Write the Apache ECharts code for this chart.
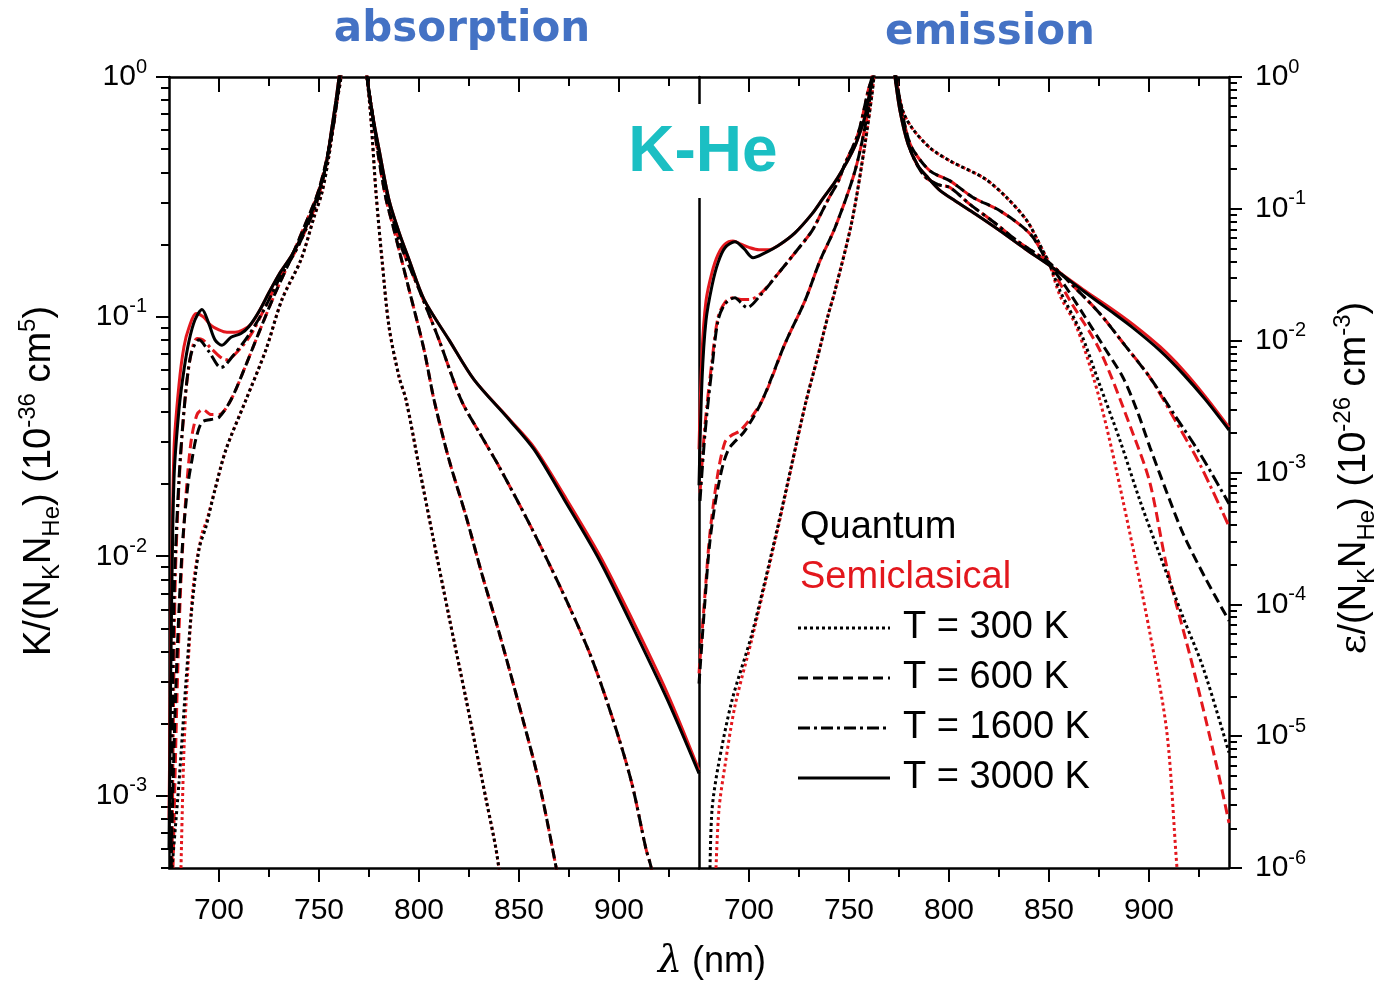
<!DOCTYPE html>
<html>
<head>
<meta charset="utf-8">
<title>K-He absorption / emission</title>
<script src="https://cdn.jsdelivr.net/npm/echarts@6/dist/echarts.min.js"></script>
<style>
  html, body { margin: 0; padding: 0; background: #fff; }
  #chart { width: 1379px; height: 983px; }
</style>
</head>
<body>
<div id="chart"></div>
<script>
// axis ticks
var lambdaMajor = [700, 750, 800, 850, 900];
var lambdaMinor = [725, 775, 825, 875, 925];
var absDecades = [1e-3, 1e-2, 1e-1, 1];
var emDecades = [1e-6, 1e-5, 1e-4, 1e-3, 1e-2, 1e-1, 1];
var temps = ['T = 300 K', 'T = 600 K', 'T = 1600 K', 'T = 3000 K'];

// absorption K/(N_K N_He), points are [lambda (nm), value]
// Q = quantum (black), S = semiclassical (red)
var absQ300 = [[676.5, 5e-4], [680, 1.14e-3], [683.5, 3.0e-3], [686, 5.6e-3], [690, 0.0107], [693.5, 0.0133], [698, 0.019], [703.5, 0.0279], [713.5, 0.045], [723.5, 0.0729], [731.5, 0.118], [741, 0.173], [747.5, 0.26], [751.5, 0.33], [755, 0.47], [758.5, 0.75], [761, 1.0], [763, 1.6], [771, 1.6], [774, 1.0], [776, 0.662], [778.5, 0.329], [781.5, 0.173], [785, 0.0908], [790, 0.0562], [793.5, 0.045], [800, 0.0237], [806.5, 0.0126], [815, 5.6e-3], [823.5, 2.54e-3], [828.5, 1.57e-3], [833.5, 9.7e-4], [838.5, 6.0e-4], [841, 4.3e-4]];
var absS300 = [[681, 5e-4], [682.5, 1.57e-3], [685, 4.1e-3], [687.5, 8.0e-3], [691.5, 0.0124], [694, 0.0142], [698, 0.019], [703.5, 0.0279], [713.5, 0.045], [723.5, 0.0729], [731.5, 0.118], [741, 0.173], [747.5, 0.26], [751.5, 0.33], [755, 0.47], [758.5, 0.75], [761, 1.0], [763, 1.6], [771, 1.6], [774, 1.0], [776, 0.662], [778.5, 0.329], [781.5, 0.173], [785, 0.0908], [790, 0.0562], [793.5, 0.045], [800, 0.0237], [806.5, 0.0126], [815, 5.6e-3], [823.5, 2.54e-3], [828.5, 1.57e-3], [833.5, 9.7e-4], [838.5, 6.0e-4], [841, 4.3e-4]];
var absQ600 = [[676, 5e-4], [678, 2.2e-3], [680, 6e-3], [682, 0.012], [684.5, 0.02], [686.5, 0.0253], [688.5, 0.031], [691.5, 0.0363], [696, 0.0372], [700, 0.038], [706, 0.045], [712.5, 0.06], [720, 0.086], [727.5, 0.122], [735, 0.168], [742.5, 0.236], [750, 0.34], [756.5, 0.58], [760.5, 1.0], [763, 1.6], [771, 1.6], [774, 1.0], [780, 0.451], [783.5, 0.31], [787.5, 0.23], [795, 0.13], [802.5, 0.0729], [807.5, 0.045], [815, 0.0253], [823.5, 0.0147], [831.5, 0.0084], [840, 0.00482], [851.5, 0.00215], [860, 0.00114], [868.5, 5.06e-4], [871, 3.8e-4]];
var absS600 = [[677, 5e-4], [679, 2.6e-3], [681, 8e-3], [683.5, 0.018], [686, 0.03], [689, 0.039], [692, 0.041], [696, 0.039], [700, 0.039], [706, 0.045], [712.5, 0.06], [720, 0.086], [727.5, 0.122], [735, 0.168], [742.5, 0.236], [750, 0.34], [756.5, 0.58], [760.5, 1.0], [763, 1.6], [771, 1.6], [774, 1.0], [780, 0.451], [783.5, 0.31], [787.5, 0.23], [795, 0.13], [802.5, 0.0729], [807.5, 0.045], [815, 0.0253], [823.5, 0.0147], [831.5, 0.0084], [840, 0.00482], [851.5, 0.00215], [860, 0.00114], [868.5, 5.06e-4], [871, 3.8e-4]];
var absQ1600 = [[676, 5e-4], [677.5, 6.6e-3], [680, 0.021], [683, 0.045], [686, 0.0695], [690, 0.08], [695, 0.0714], [701, 0.0613], [707.5, 0.0695], [715, 0.084], [722.5, 0.107], [730, 0.143], [740, 0.2], [750, 0.322], [756.5, 0.6], [760.5, 1.0], [763, 1.6], [771, 1.6], [774, 1.0], [778, 0.6], [782.5, 0.372], [790, 0.209], [800, 0.13], [810, 0.08], [821, 0.045], [830, 0.033], [840, 0.0237], [856.5, 0.013], [873.5, 6.6e-3], [886.5, 3.72e-3], [898.5, 1.9e-3], [906.5, 1.12e-3], [913.5, 6.0e-4], [916, 5.06e-4], [918, 4e-4]];
var absS1600 = [[676.5, 5e-4], [678, 7e-3], [680, 0.02], [683, 0.045], [686, 0.07], [689, 0.081], [692, 0.08], [696.5, 0.073], [703.5, 0.066], [711.5, 0.075], [717, 0.087], [722.5, 0.107], [730, 0.143], [740, 0.2], [750, 0.322], [756.5, 0.6], [760.5, 1.0], [763, 1.6], [771, 1.6], [774, 1.0], [778, 0.6], [782.5, 0.372], [790, 0.209], [800, 0.13], [810, 0.08], [821, 0.045], [830, 0.033], [840, 0.0237], [856.5, 0.013], [873.5, 6.6e-3], [886.5, 3.72e-3], [898.5, 1.9e-3], [906.5, 1.12e-3], [913.5, 6.0e-4], [916, 5.06e-4], [918, 4e-4]];
var absQ3000 = [[675, 6e-4], [676, 4.1e-3], [677.5, 0.021], [680, 0.041], [682.5, 0.06], [685, 0.079], [688, 0.097], [691.5, 0.107], [695, 0.093], [698, 0.08], [701.5, 0.076], [706, 0.082], [711, 0.085], [715, 0.091], [720, 0.105], [725, 0.126], [730, 0.15], [736, 0.178], [740, 0.205], [745, 0.254], [749, 0.316], [752, 0.38], [754, 0.45], [756.5, 0.62], [758.5, 0.8], [760, 1.0], [762, 1.5], [772, 1.5], [774, 1.0], [777, 0.68], [780, 0.5], [785, 0.307], [790, 0.225], [795, 0.173], [802.5, 0.118], [815, 0.08], [827.5, 0.0546], [845, 0.0372], [857.5, 0.0279], [872.5, 0.0173], [890, 0.00972], [905, 0.00546], [924, 0.00254], [940, 0.00124]];
var absS3000 = [[675, 8e-4], [676, 5e-3], [677.5, 0.028], [680, 0.052], [682.5, 0.075], [685, 0.09], [688.5, 0.103], [692, 0.1], [696, 0.092], [700, 0.088], [704, 0.086], [708, 0.086], [712, 0.088], [716, 0.093], [720, 0.105], [725, 0.126], [730, 0.15], [736, 0.178], [740, 0.205], [745, 0.254], [749, 0.316], [752, 0.38], [754, 0.45], [756.5, 0.62], [758.5, 0.8], [760, 1.0], [762, 1.5], [772, 1.5], [774, 1.0], [777, 0.68], [780, 0.5], [785, 0.307], [790, 0.225], [795, 0.173], [802.5, 0.118], [815, 0.08], [827.5, 0.0546], [845, 0.0375], [857.5, 0.0285], [872.5, 0.018], [890, 0.0102], [905, 0.0058], [924, 0.0027], [940, 0.00128]];

// emission eps/(N_K N_He)
var emQ300 = [[680.5, 1e-6], [681.5, 2.75e-6], [684.5, 5.8e-6], [691.5, 1.87e-5], [701.5, 6.0e-5], [714.5, 3.96e-4], [728, 3.22e-3], [734.5, 7.7e-3], [739.5, 0.0155], [743, 0.0239], [751.5, 0.081], [758, 0.31], [761.5, 0.74], [762.5, 1.0], [765, 1.8], [771, 1.8], [773, 1.0], [777, 0.55], [781.5, 0.411], [790.5, 0.29], [800.5, 0.231], [818, 0.169], [829, 0.121], [839, 0.081], [847, 0.048], [850, 0.039], [855.5, 0.0239], [865.5, 0.0119], [875.5, 4.56e-3], [885.5, 1.75e-3], [895.5, 6.1e-4], [905.5, 2.35e-4], [917, 8.0e-5], [927, 3.33e-5], [940, 7.5e-6]];
var emS300 = [[683.5, 1e-6], [685, 2.8e-6], [688, 6e-6], [693, 1.7e-5], [701.5, 5.5e-5], [714.5, 3.8e-4], [728, 3.2e-3], [734.5, 7.7e-3], [739.5, 0.0155], [743, 0.0239], [751.5, 0.081], [758, 0.31], [761.5, 0.74], [762.5, 1.0], [765, 1.8], [771, 1.8], [773, 1.0], [777, 0.55], [781.5, 0.411], [790.5, 0.29], [800.5, 0.231], [818, 0.169], [829, 0.121], [839, 0.081], [847, 0.048], [850, 0.039], [855.5, 0.022], [864, 0.0125], [875.5, 3.5e-3], [887, 6.1e-4], [900.5, 6.0e-5], [909, 1.05e-5], [914, 1.0e-6], [916, 5e-7]];
var emQ600 = [[675, 2.5e-5], [678, 1.07e-4], [680.5, 3.05e-4], [684.5, 7.7e-4], [689.5, 1.47e-3], [698, 2.08e-3], [706.5, 3.5e-3], [718, 9.5e-3], [728, 0.0201], [735.5, 0.0404], [743, 0.0718], [753, 0.194], [759.5, 0.552], [761.5, 1.0], [764, 1.8], [771, 1.8], [773.5, 1.0], [778, 0.426], [781.5, 0.29], [790.5, 0.194], [800.5, 0.163], [812, 0.122], [825.5, 0.0966], [840.5, 0.0647], [849, 0.0404], [858, 0.0261], [867, 0.016], [877, 9.2e-3], [887, 5.25e-3], [894, 2.95e-3], [900.5, 1.55e-3], [909, 7.0e-4], [917, 3.45e-4], [928, 1.6e-4], [940, 7.5e-5]];
var emS600 = [[675, 3e-5], [678, 1.2e-4], [680.5, 3.5e-4], [684.5, 1.0e-3], [688, 1.7e-3], [691, 1.9e-3], [696, 2.1e-3], [706.5, 3.5e-3], [718, 9.5e-3], [728, 0.0201], [735.5, 0.0404], [743, 0.0718], [753, 0.194], [759.5, 0.552], [761.5, 1.0], [764, 1.8], [771, 1.8], [773.5, 1.0], [778, 0.426], [781.5, 0.29], [790.5, 0.194], [800.5, 0.163], [812, 0.122], [825.5, 0.0966], [840.5, 0.0647], [849, 0.0404], [860.5, 0.0201], [875.5, 8.4e-3], [892, 1.97e-3], [900.5, 8.3e-4], [909, 1.9e-4], [922, 3.33e-5], [934, 5.8e-6], [940, 2.2e-6]];
var emQ1600 = [[675.5, 6.1e-4], [678, 1.97e-3], [681.5, 6.24e-3], [684.5, 0.0142], [688, 0.019], [693, 0.0212], [696, 0.0194], [699, 0.0178], [705.5, 0.0219], [714.5, 0.0322], [723, 0.0464], [731.5, 0.0681], [736, 0.092], [740.5, 0.125], [744.5, 0.16], [748, 0.22], [754.5, 0.37], [759.5, 0.78], [761.5, 1.0], [764, 1.8], [771, 1.8], [773.5, 1.0], [777, 0.464], [781.5, 0.26], [788, 0.175], [795, 0.152], [800.5, 0.145], [810.5, 0.108], [823, 0.078], [834, 0.0573], [850, 0.039], [863, 0.0252], [875.5, 0.016], [888, 9.2e-3], [900.5, 5.25e-3], [913, 2.7e-3], [925.5, 1.39e-3], [940, 5.8e-4]];
var emS1600 = [[675.5, 7e-4], [678, 2.3e-3], [681.5, 7e-3], [684.5, 0.015], [688, 0.0195], [692, 0.0212], [696, 0.0205], [700, 0.0205], [705.5, 0.0225], [714.5, 0.0322], [723, 0.0464], [731.5, 0.0681], [736, 0.092], [740.5, 0.125], [744.5, 0.16], [748, 0.22], [754.5, 0.37], [759.5, 0.78], [761.5, 1.0], [764, 1.8], [771, 1.8], [773.5, 1.0], [777, 0.464], [781.5, 0.26], [788, 0.175], [795, 0.152], [800.5, 0.145], [810.5, 0.108], [823, 0.078], [834, 0.0573], [850, 0.039], [863, 0.0252], [875.5, 0.016], [888, 9.2e-3], [900.5, 5.25e-3], [913, 2.5e-3], [925.5, 1.15e-3], [940, 3.9e-4]];
var emQ3000 = [[675, 8e-4], [676.5, 4.98e-3], [678.5, 0.0142], [681.5, 0.0261], [684.5, 0.039], [688, 0.0507], [693, 0.0562], [697.5, 0.0498], [702, 0.0426], [708, 0.0464], [714.5, 0.0525], [723, 0.0658], [731.5, 0.0916], [737, 0.12], [743, 0.16], [749.5, 0.235], [753, 0.3], [756, 0.4], [758, 0.5], [760.5, 0.78], [762, 1.0], [764, 1.8], [771, 1.8], [773, 1.0], [775.5, 0.552], [779.5, 0.31], [784.5, 0.212], [789.5, 0.172], [795, 0.14], [803, 0.115], [813, 0.0916], [825.5, 0.0681], [838, 0.0498], [850.5, 0.037], [867, 0.0239], [880.5, 0.0169], [892, 0.0125], [905.5, 8.4e-3], [917, 5.6e-3], [928, 3.6e-3], [940, 2.1e-3]];
var emS3000 = [[675, 1.5e-3], [676.5, 8e-3], [678.5, 0.02], [681.5, 0.033], [684.5, 0.045], [688, 0.054], [692, 0.057], [696, 0.054], [700, 0.051], [705, 0.049], [710, 0.049], [714.5, 0.0525], [723, 0.0658], [731.5, 0.0916], [737, 0.12], [743, 0.16], [749.5, 0.235], [753, 0.3], [756, 0.4], [758, 0.5], [760.5, 0.78], [762, 1.0], [764, 1.8], [771, 1.8], [773, 1.0], [775.5, 0.552], [779.5, 0.31], [784.5, 0.212], [789.5, 0.172], [795, 0.14], [803, 0.115], [813, 0.0916], [825.5, 0.0681], [838, 0.0498], [850.5, 0.037], [867, 0.0245], [880.5, 0.0178], [892, 0.0133], [905.5, 9.0e-3], [917, 6.0e-3], [928, 3.8e-3], [940, 2.2e-3]];

var FONT = '"Liberation Sans", Arial, Helvetica, sans-serif';
var RED = '#e3171d';
var dashOf = [[3, 3], [10, 5], [12, 4, 3, 4], 'solid'];

function minorTicks(lo, hi) {
  var out = [];
  for (var e = -7; e <= 0; e++) {
    for (var k = 2; k <= 9; k++) {
      var v = k * Math.pow(10, e);
      if (v >= lo * 0.999 && v <= hi) out.push(v);
    }
  }
  return out;
}

function powLabel(v) {
  var e = Math.round(Math.log10(v));
  return '{b|10}{s|' + e + '}';
}

var labelRich = {
  b: { fontSize: 30, lineHeight: 40, fontFamily: FONT, color: '#000' },
  s: { fontSize: 20, verticalAlign: 'top', fontFamily: FONT, color: '#000' }
};

function xAxes(gi) {
  var axisLine = { show: true, onZero: false, lineStyle: { color: '#000', width: 2.5 } };
  var tickLine = { color: '#000', width: 2 };
  return [
    { gridIndex: gi, type: 'value', position: 'bottom', min: 675, max: 940,
      axisLine: axisLine,
      axisTick: { show: true, inside: false, length: 14, customValues: lambdaMajor, lineStyle: tickLine },
      axisLabel: { show: true, customValues: lambdaMajor, margin: 28, fontSize: 30, color: '#000', fontFamily: FONT },
      splitLine: { show: false } },
    { gridIndex: gi, type: 'value', position: 'bottom', min: 675, max: 940,
      axisLine: { show: false },
      axisTick: { show: true, inside: false, length: 9, customValues: lambdaMinor, lineStyle: tickLine },
      axisLabel: { show: false }, splitLine: { show: false } },
    { gridIndex: gi, type: 'value', position: 'top', min: 675, max: 940,
      axisLine: axisLine,
      axisTick: { show: true, inside: true, length: 15, customValues: lambdaMajor, lineStyle: tickLine },
      axisLabel: { show: false }, splitLine: { show: false } },
    { gridIndex: gi, type: 'value', position: 'top', min: 675, max: 940,
      axisLine: { show: false },
      axisTick: { show: true, inside: true, length: 9, customValues: lambdaMinor, lineStyle: tickLine },
      axisLabel: { show: false }, splitLine: { show: false } }
  ];
}

function logAxis(gi, pos, lo, hi, decades, major, margin) {
  var tickLine = { color: '#000', width: 2 };
  if (major) {
    return { gridIndex: gi, type: 'log', position: pos, min: lo, max: hi, logBase: 10,
      axisLine: { show: true, onZero: false, lineStyle: { color: '#000', width: 2.5 } },
      axisTick: { show: true, inside: false, length: 13, customValues: decades, lineStyle: tickLine },
      axisLabel: { show: true, customValues: decades, margin: margin, formatter: powLabel, rich: labelRich },
      splitLine: { show: false } };
  }
  return { gridIndex: gi, type: 'log', position: pos, min: lo, max: hi, logBase: 10,
    axisLine: { show: false },
    axisTick: { show: true, inside: false, length: 8, customValues: minorTicks(lo, hi), lineStyle: tickLine },
    axisLabel: { show: false }, splitLine: { show: false } };
}

function line(name, data, color, dash, xi, yi, z) {
  return {
    name: name, type: 'line', data: data, xAxisIndex: xi, yAxisIndex: yi,
    showSymbol: false, symbol: 'none', smooth: 0.3, clip: true, silent: true, z: z,
    lineStyle: { color: color, width: 3, type: dash },
    emphasis: { disabled: true }, animation: false
  };
}

var absQ = [absQ300, absQ600, absQ1600, absQ3000];
var absS = [absS300, absS600, absS1600, absS3000];
var emQ = [emQ300, emQ600, emQ1600, emQ3000];
var emS = [emS300, emS600, emS1600, emS3000];

var series = [];
for (var i = 0; i < 4; i++) {
  series.push(line('Semiclasical ' + temps[i], absS[i], RED, dashOf[i], 0, 0, 2));
  series.push(line(temps[i], absQ[i], '#000', dashOf[i], 0, 0, 3));
  series.push(line('Semiclasical ' + temps[i], emS[i], RED, dashOf[i], 4, 3, 2));
  series.push(line(temps[i], emQ[i], '#000', dashOf[i], 4, 3, 3));
}

// hand-made legend inside the emission panel
var legendItems = [
  { type: 'text', x: 800, y: 528, style: { text: 'Quantum', font: '38px ' + FONT, fill: '#000', verticalAlign: 'middle' } },
  { type: 'text', x: 800, y: 578, style: { text: 'Semiclasical', font: '38px ' + FONT, fill: RED, verticalAlign: 'middle' } }
];
for (var j = 0; j < 4; j++) {
  var ly = 628 + j * 50;
  legendItems.push({ type: 'line', shape: { x1: 798, y1: ly, x2: 890, y2: ly },
    style: { stroke: '#000', lineWidth: 3, lineDash: dashOf[j] === 'solid' ? null : dashOf[j] } });
  legendItems.push({ type: 'text', x: 903, y: ly,
    style: { text: temps[j], font: '38px ' + FONT, fill: '#000', verticalAlign: 'middle' } });
}

var nameRich = {
  n: { fontSize: 38, lineHeight: 48, fontFamily: FONT, fill: '#000' },
  sb: { fontSize: 24, verticalAlign: 'bottom', fontFamily: FONT, fill: '#000' },
  sp: { fontSize: 24, verticalAlign: 'top', fontFamily: FONT, fill: '#000' },
  g: { fontSize: 38, lineHeight: 48, fontFamily: '"DejaVu Serif", serif', fill: '#000' }
};

var option = {
  backgroundColor: '#fff',
  animation: false,
  grid: [
    { left: 169, top: 77, width: 530, height: 791, outerBoundsMode: 'none' },
    { left: 699, top: 77, width: 530, height: 791, outerBoundsMode: 'none' }
  ],
  xAxis: xAxes(0).concat(xAxes(1)),
  yAxis: [
    logAxis(0, 'left', 5e-4, 1, absDecades, true, 22),
    logAxis(0, 'left', 5e-4, 1, absDecades, false),
    { gridIndex: 0, type: 'log', position: 'right', min: 5e-4, max: 1,
      axisLine: { show: true, lineStyle: { color: '#000', width: 2.5 } },
      axisTick: { show: false }, axisLabel: { show: false }, splitLine: { show: false } },
    logAxis(1, 'right', 1e-6, 1, emDecades, true, 26),
    logAxis(1, 'right', 1e-6, 1, emDecades, false)
  ],
  series: series,
  graphic: [
    { type: 'rect', shape: { x: 692, y: 104, width: 14, height: 94 }, style: { fill: '#fff' }, z: 50 },
    { type: 'text', x: 462, y: 30, style: { text: 'absorption', font: 'bold 42px "DejaVu Sans", Verdana, sans-serif', fill: '#4472c4', align: 'center', verticalAlign: 'middle' } },
    { type: 'text', x: 990, y: 33, style: { text: 'emission', font: 'bold 42px "DejaVu Sans", Verdana, sans-serif', fill: '#4472c4', align: 'center', verticalAlign: 'middle' } },
    { type: 'text', x: 703, y: 153, z: 60, style: { text: 'K-He', font: 'bold 64px ' + FONT, fill: '#1bbfc3', align: 'center', verticalAlign: 'middle' } },
    { type: 'text', x: 40, y: 481, rotation: Math.PI / 2,
      style: { text: '{n|K/(N}{sb|K}{n|N}{sb|He}{n|) (10}{sp|-36}{n| cm}{sp|5}{n|)}', rich: nameRich, align: 'center', verticalAlign: 'middle' } },
    { type: 'text', x: 1355, y: 478, rotation: Math.PI / 2,
      style: { text: '{g|ε}{n|/(N}{sb|K}{n|N}{sb|He}{n|) (10}{sp|-26}{n| cm}{sp|-3}{n|)}', rich: nameRich, align: 'center', verticalAlign: 'middle' } },
    { type: 'text', x: 712, y: 962,
      style: { text: '{l|λ}{n| (nm)}', rich: { l: { fontSize: 38, fontStyle: 'italic', fontFamily: '"DejaVu Serif", serif', fill: '#000' }, n: { fontSize: 36, fontFamily: FONT, fill: '#000' } }, align: 'center', verticalAlign: 'middle' } }
  ].concat(legendItems)
};

var chart = echarts.init(document.getElementById('chart'));
chart.setOption(option);
</script>
</body>
</html>
